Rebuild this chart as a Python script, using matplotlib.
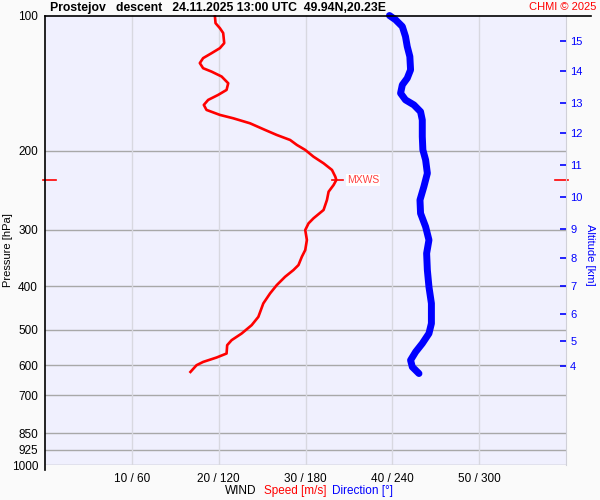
import matplotlib.pyplot as plt
from matplotlib.lines import Line2D
import matplotlib.transforms as mtransforms

plt.rcParams['font.family'] = ['Liberation Sans', 'DejaVu Sans']

# wind speed profile (m/s) vs pressure (hPa)
speed_p = [100.0, 104.0, 106.7, 109.4, 115.2, 118.2, 121.3, 124.4, 127.6, 131.0,
           133.3, 136.7, 141.5, 146.4, 150.2, 154.1, 158.1, 162.2, 166.4, 169.3,
           173.7, 179.7, 184.4, 189.2, 194.1, 199.1, 206.1, 213.2, 220.6, 228.3,
           232.2, 238.2, 246.6, 257.3, 270.8, 282.6, 290.0, 300.1, 315.8, 332.5,
           344.1, 359.1, 368.4, 381.3, 397.9, 415.2, 437.1, 468.2, 488.5, 509.8,
           527.6, 541.3, 564.9, 576.6, 589.8, 599.8, 620.8]
speed = [19.56, 19.64, 20.14, 20.52, 20.64, 20.14, 19.18, 18.21, 17.83, 18.21,
         19.18, 20.34, 21.10, 20.91, 19.94, 18.79, 18.29, 18.60, 20.14, 21.68,
         23.61, 25.34, 26.69, 28.23, 29.01, 29.97, 30.92, 32.08, 33.05, 33.43,
         33.55, 33.24, 32.66, 32.47, 32.08, 30.92, 30.35, 29.97, 30.16, 29.97,
         29.58, 29.19, 28.61, 27.65, 26.69, 25.92, 25.14, 24.57, 23.80, 22.65,
         21.49, 20.98, 20.91, 19.76, 18.21, 17.45, 16.75]

# wind direction profile (deg) vs pressure (hPa)
dir_p = [100.0, 102.2, 105.8, 111.4, 117.2, 123.4, 132.1, 137.9, 142.7, 148.9,
         154.1, 158.1, 163.7, 170.8, 186.0, 199.1, 209.6, 224.4, 240.3, 257.3,
         275.5, 295.1, 315.8, 338.2, 368.4, 401.4, 437.1, 484.3, 509.8, 536.6,
         560.3, 584.6, 605.1, 625.9]
direction = [238.0, 242.2, 246.9, 249.1, 250.3, 252.1, 252.6, 250.3, 246.9, 245.7,
             249.1, 254.9, 259.5, 260.7, 260.7, 261.1, 263.0, 264.2, 261.8, 259.1,
             259.5, 263.0, 265.3, 263.7, 264.2, 265.3, 267.0, 267.0, 265.3, 260.7,
             256.1, 252.6, 253.8, 258.4]

p_ticks = [100, 200, 300, 400, 500, 600, 700, 850, 925, 1000]
x_ticks = [10, 20, 30, 40, 50]
x_labels = ['10 / 60', '20 / 120', '30 / 180', '40 / 240', '50 / 300']
alt_km = [4, 5, 6, 7, 8, 9, 10, 11, 12, 13, 14, 15]
alt_p = [602, 529, 461, 399, 347, 298, 254, 215.5, 183, 156.5, 133, 113.7]

fig = plt.figure(figsize=(6, 5), dpi=100, facecolor='#fafafa')
ax = fig.add_axes([45/600, 35/500, 521/600, 449.5/500])
ax.set_facecolor('#f0f0fe')
ax.set_yscale('log')
ax.set_ylim(1000, 100)
ax.set_xlim(0, 60)

for p in p_ticks[1:]:
    ax.axhline(p, color='#a8a8a8', lw=1.0, zorder=1)
for x in x_ticks:
    ax.axvline(x, color='#d8d8e0', lw=1.0, zorder=1)

ax.set_yticks(p_ticks)
ax.set_yticklabels([str(p) for p in p_ticks])
ax.yaxis.set_minor_locator(plt.NullLocator())
ax.tick_params(axis='y', length=0, pad=5, labelsize=8.5)
ax.set_xticks(x_ticks)
ax.set_xticklabels(x_labels)
ax.tick_params(axis='x', length=0, pad=6, labelsize=8.5)

for s in ['left', 'top', 'bottom']:
    ax.spines[s].set_visible(False)
ax.spines['right'].set_color('#d0d0d8')

# speed (m/s) and direction (deg, shares axis with 6 deg per m/s)
ax.plot(speed, speed_p, color='#ff0000', lw=1.9, zorder=3)
ax.plot([d / 6 for d in direction], dir_p, color='#0000ff', lw=5,
        solid_capstyle='round', zorder=3, clip_on=False)

# max wind speed marker
i_max = speed.index(max(speed))
p_max = speed_p[i_max]
ax.plot([speed[i_max] - 0.5, speed[i_max] + 0.8], [p_max, p_max], color='#ff0000', lw=1.2, zorder=4)
ax.text(speed[i_max] + 1.2, p_max, 'MXWS', color='#ff4040', fontsize=7.5, va='center',
        bbox=dict(facecolor='white', edgecolor='none', pad=0.5), zorder=5)
trans = mtransforms.blended_transform_factory(ax.transAxes, ax.transData)
ax.plot([-0.004, 0.021], [p_max, p_max], color='#ff0000', lw=1.2, transform=trans, clip_on=False)
ax.plot([0.979, 1.004], [p_max, p_max], color='#ff0000', lw=1.2, transform=trans, clip_on=False)

# altitude axis
ax2 = ax.twinx()
ax2.set_yscale('log')
ax2.set_ylim(1000, 100)
ax2.set_yticks(alt_p)
ax2.set_yticklabels([str(a) for a in alt_km])
ax2.yaxis.set_minor_locator(plt.NullLocator())
ax2.tick_params(axis='y', direction='in', length=4.5, width=1.2, color='#0000ff',
                labelcolor='#0000ff', labelsize=8, pad=3)
for s in ['left', 'top', 'bottom', 'right']:
    ax2.spines[s].set_visible(False)

# frame lines
fig.add_artist(Line2D([45/600, 45/600], [1 - 15.5/500, 1 - 470/500], color='black', lw=1.2))
fig.add_artist(Line2D([45/600, 591/600], [1 - 15.5/500, 1 - 15.5/500], color='black', lw=1.2))

fig.text(50/600, 1 - 7.5/500, 'Prostejov   descent   24.11.2025 13:00 UTC  49.94N,20.23E',
         fontsize=8.8, fontweight='bold', va='center', ha='left')
fig.text(596/600, 1 - 7.5/500, 'CHMI \u00a9 2025', color='#ff0000', fontsize=8,
         va='center', ha='right')
fig.text(8/600, 1 - 250/500, 'Pressure [hPa]', rotation=90, fontsize=8, va='center', ha='center')
fig.text(590/600, 1 - 255/500, 'Altitude [km]', rotation=-90, fontsize=8, color='#0000ff',
         va='center', ha='center')
fig.text(225/600, 1 - 491/500, 'WIND', fontsize=8.5, va='center', ha='left')
fig.text(264/600, 1 - 491/500, 'Speed [m/s]', fontsize=8.5, color='#ff0000', va='center', ha='left')
fig.text(332/600, 1 - 491/500, 'Direction [\u00b0]', fontsize=8.5, color='#0000ff', va='center', ha='left')

fig.savefig('out.png', dpi=100, facecolor=fig.get_facecolor())
